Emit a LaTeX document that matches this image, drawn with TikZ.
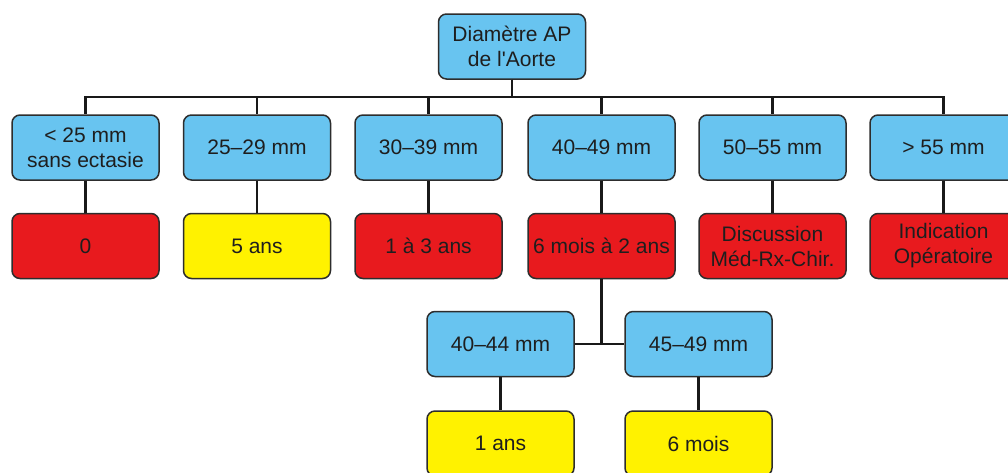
\documentclass[tikz,border=0pt]{standalone}
\usepackage{fontspec}
\setmainfont{Liberation Sans}[Ligatures=TeXOff]
\definecolor{bbox}{RGB}{104,196,240}
\definecolor{rbox}{RGB}{232,26,30}
\definecolor{ybox}{RGB}{255,242,0}
\definecolor{edge}{RGB}{45,45,45}
\definecolor{txt}{RGB}{30,30,30}
\tikzset{
  box/.style={draw=edge, line width=1.5pt, rounded corners=8pt, minimum width=147pt, minimum height=65pt,
    inner sep=0pt, align=center, text=txt, font=\fontsize{21}{25}\selectfont},
  bluebox/.style={box, fill=bbox},
  redbox/.style={box, fill=rbox},
  yellowbox/.style={box, fill=ybox},
  conn/.style={draw=black!90, line width=2.8pt}
}
\begin{document}
\begin{tikzpicture}[x=1pt,y=-1pt]
\useasboundingbox (0,0) rectangle (1008,472);
\clip (0,0) rectangle (1008,472);
\fill[white] (0,0) rectangle (1008,472);
\coordinate (busy) at (0,97);
\node[bluebox] (top) at (512,46.5) {Diamètre AP\\de l'Aorte};
\node[bluebox] (c1) at (85.5,147.5) {< 25 mm\\sans ectasie};
\node[bluebox] (c2) at (257,147.5) {25–29 mm};
\node[bluebox] (c3) at (428.5,147.5) {30–39 mm};
\node[bluebox] (c4) at (601.5,147.5) {40–49 mm};
\node[bluebox] (c5) at (772.5,147.5) {50–55 mm};
\node[bluebox] (c6) at (943.5,147.5) {> 55 mm};
\node[redbox] (r1) at (85.5,246) {0};
\node[yellowbox] (r2) at (257,246) {5 ans};
\node[redbox] (r3) at (428.5,246) {1 à 3 ans};
\node[redbox] (r4) at (601.5,246) {6 mois à 2 ans};
\node[redbox] (r5) at (772.5,246) {Discussion\\Méd-Rx-Chir.};
\node[redbox] (r6) at (943.5,246) {Indication\\Opératoire};
\node[bluebox] (s1) at (500.5,344) {40–44 mm};
\node[bluebox] (s2) at (698.5,344) {45–49 mm};
\node[yellowbox] (t1) at (500.5,443.5) {1 ans};
\node[yellowbox] (t2) at (698.5,443.5) {6 mois};
\foreach \c in {c1,c2,c3,c4,c5,c6}{
  \draw[conn] (top.south) -- (top.south |- busy) -| (\c.north);
}
\foreach \a/\b in {c1/r1,c2/r2,c3/r3,c4/r4,c5/r5,c6/r6,s1/t1,s2/t2}{
  \draw[conn] (\a.south) -- (\b.north);
}
\draw[conn] (s1.east) -- (s2.west);
\draw[conn] (r4.south) -- (r4.south |- s1.east);
\end{tikzpicture}
\end{document}
